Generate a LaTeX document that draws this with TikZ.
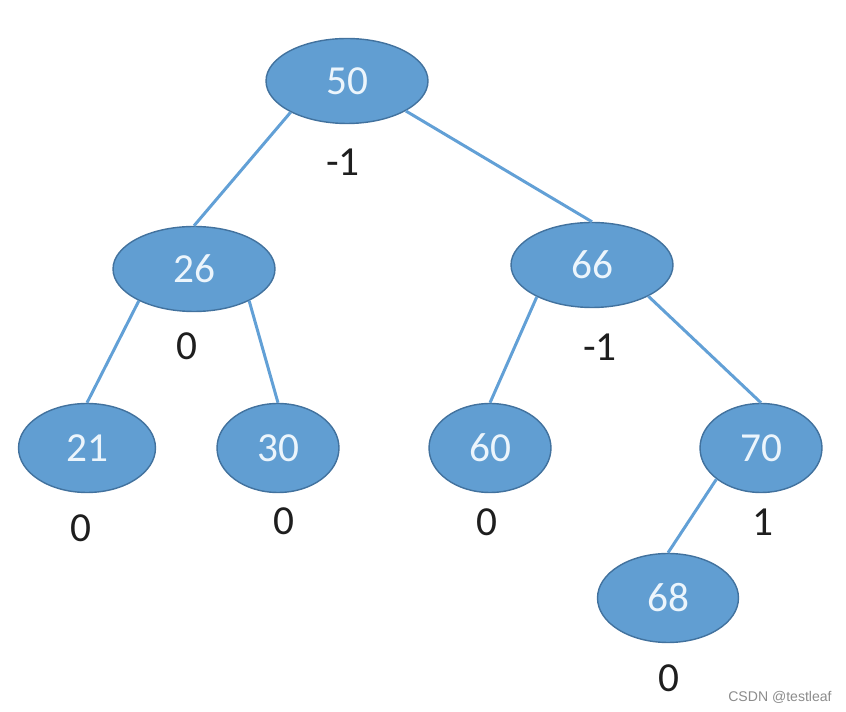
\documentclass[tikz,border=0pt]{standalone}
\usepackage{fontspec}
\usetikzlibrary{shapes.geometric, positioning}
\newfontfamily\calfont{Carlito}
\newfontfamily\markfont{Liberation Sans}

\definecolor{nodefill}{RGB}{97,158,210}
\definecolor{nodeline}{RGB}{66,114,158}
\definecolor{edgeblue}{RGB}{98,160,214}
\definecolor{keytext}{RGB}{236,245,252}
\definecolor{bftext}{RGB}{30,30,30}

\begin{document}
\begin{tikzpicture}[
        x=0.02cm, y=-0.02cm,
        % --- STILURI ---
        % 1. Nodurile arborelui: elipse albastre
        key/.style={
                ellipse,
                draw=nodeline,
                line width=0.8pt,
                fill=nodefill,
                inner sep=0pt,
                text=keytext,
                font=\calfont\fontsize{23.5}{27}\selectfont
            },
        big/.style={key, minimum width=3.24cm, minimum height=1.7cm},
        small/.style={key, minimum width=2.44cm, minimum height=1.78cm},
        % 2. Muchiile
        edge/.style={
                draw=edgeblue,
                line width=1.7pt
            },
        % 3. Factorii de echilibru
        bf/.style={
                text=bftext,
                inner sep=0pt,
                font=\calfont\fontsize{23.5}{27}\selectfont
            }
    ]

    \useasboundingbox (0,0) rectangle (846,712);

    % 1. Nodurile
    \node[big] (n50) at (347,81) {50};
    \node[big] (n26) at (194,269) {26};
    \node[big] (n66) at (592,265) {66};
    \node[small, minimum width=2.74cm] (n21) at (87,448) {21};
    \node[small] (n30) at (278,448) {30};
    \node[small] (n60) at (490,448) {60};
    \node[small] (n70) at (761,448) {70};
    \node[small, minimum width=2.82cm] (n68) at (668,598) {68};

    % 2. Muchiile
    \draw[edge] (n50.209) -- (n26.north);
    \draw[edge] (n50.333) -- (n66.north);
    \draw[edge] (n26.210) -- (n21.north);
    \draw[edge] (n26.330) -- (n30.north);
    \draw[edge] (n66.210) -- (n60.north);
    \draw[edge] (n66.331) -- (n70.north);
    \draw[edge] (n70.215) -- (n68.north);

    % 3. Factorii de echilibru
    \node[bf] (bf50) at (343,162) {-1};
    \node[bf] (bf26) at (187,346) {0};
    \node[bf] (bf66) at (600,347) {-1};
    \node[bf] (bf21) at (81,528) {0};
    \node[bf] (bf30) at (284,521) {0};
    \node[bf] (bf60) at (487,522) {0};
    \node[bf] (bf70) at (763,522) {1};
    \node[bf] (bf68) at (669,678) {0};

    % Watermark
    \node[text=black!45, font=\markfont\fontsize{8}{10}\selectfont] (mark) at (780,697) {CSDN @testleaf};

\end{tikzpicture}
\end{document}
